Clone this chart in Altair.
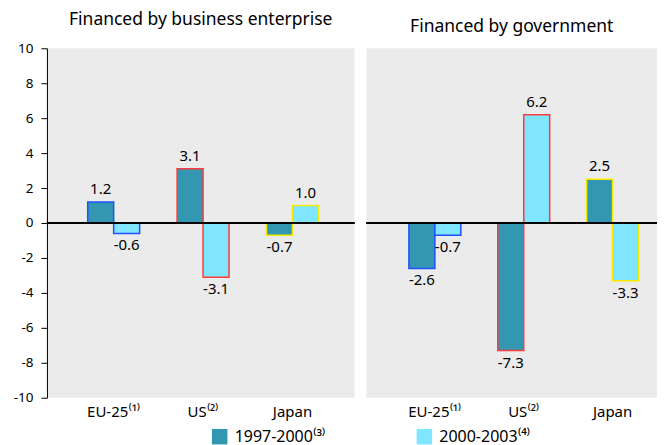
import altair as alt
import pandas as pd

countries = ["EU-25⁽¹⁾", "US⁽²⁾", "Japan"]
periods = ["1997-2000⁽³⁾", "2000-2003⁽⁴⁾"]
business_97_00 = [1.2, 3.1, -0.7]
business_00_03 = [-0.6, -3.1, 1.0]
government_97_00 = [-2.6, -7.3, 2.5]
government_00_03 = [-0.7, 6.2, -3.3]

fill_colors = ["#3397b1", "#80e5ff"]
stroke_colors = ["#2050ff", "#ff3a3a", "#f7ea00"]
FONT = "Noto Sans"
BAR_W = 26


def make_df(a, b):
    rows = []
    for c, v in zip(countries, a):
        rows.append({"country": c, "period": periods[0], "value": v})
    for c, v in zip(countries, b):
        rows.append({"country": c, "period": periods[1], "value": v})
    return pd.DataFrame(rows)


def panel(df, title, width, pad_outer, align, show_axis):
    if show_axis:
        yaxis = alt.Axis(values=list(range(-10, 11, 2)), title=None, grid=False,
                         tickSize=6, labelPadding=8, domainColor="black", tickColor="black",
                         labelColor="black", labelFontSize=13.5, labelFont=FONT,
                         labelExpr="replace(datum.label, '\u2212', '-')")
    else:
        yaxis = alt.Axis(title=None, grid=False, labels=False, ticks=False, domain=False)
    yscale = alt.Scale(domain=[-10, 10], nice=False)
    xenc = alt.X("country:N", sort=countries,
                 scale=alt.Scale(paddingInner=0, paddingOuter=pad_outer, align=align),
                 axis=alt.Axis(title=None, labelAngle=0, domain=False, ticks=False,
                               labelPadding=7, labelFontSize=15, labelFont=FONT,
                               labelColor="black"))
    yenc = alt.Y("value:Q", scale=yscale, axis=yaxis)
    fill = alt.Fill("period:N", sort=periods,
                    scale=alt.Scale(domain=periods, range=fill_colors),
                    legend=alt.Legend(title=None, orient="none", direction="horizontal",
                                      legendX=165, legendY=381, padding=0,
                                      columnPadding=90,
                                      symbolType="square", symbolSize=240,
                                      symbolStrokeWidth=0, labelFontSize=16,
                                      labelFont=FONT, labelColor="black",
                                      symbolOpacity=1, labelOffset=7))
    stroke = alt.Stroke("country:N", scale=alt.Scale(domain=countries, range=stroke_colors),
                        legend=None)
    layers = []
    for i, p in enumerate(periods):
        off = -BAR_W / 2 if i == 0 else BAR_W / 2
        sub = alt.Chart(df).transform_filter(alt.datum.period == p)
        layers.append(sub.mark_bar(width=BAR_W, xOffset=off, strokeWidth=1.5)
                      .encode(x=xenc, y=yenc, fill=fill, stroke=stroke))
    layers.append(alt.Chart(df).mark_rule(color="black", strokeWidth=1)
                  .encode(y=alt.YDatum(0, scale=yscale, axis=yaxis)))
    for i, p in enumerate(periods):
        off = -BAR_W / 2 if i == 0 else BAR_W / 2
        sub = alt.Chart(df).transform_filter(alt.datum.period == p).transform_calculate(
            label="replace(format(datum.value, '.1f'), '\u2212', '-')"
        )
        layers.append(sub.transform_filter(alt.datum.value >= 0).mark_text(
            baseline="bottom", dy=-5, dx=off, fontSize=15, font=FONT, color="black"
        ).encode(x=xenc, y=yenc, text="label:N"))
        layers.append(sub.transform_filter(alt.datum.value < 0).mark_text(
            baseline="top", dy=5, dx=off, fontSize=15, font=FONT, color="black"
        ).encode(x=xenc, y=yenc, text="label:N"))
    return alt.layer(*layers).properties(
        width=width, height=350,
        title=alt.Title(title, fontSize=17.5, fontWeight="normal", font=FONT,
                        anchor="middle", offset=13, color="black"),
    )


left = panel(make_df(business_97_00, business_00_03), "Financed by business enterprise",
             308, 0.22, 0.56, True)
right = panel(make_df(government_97_00, government_00_03), "Financed by government",
              291, 0.135, 1.0, False)

chart = alt.hconcat(left, right, spacing=10).resolve_scale(
    x="independent"
).properties(
    padding={"left": 5, "top": 2, "right": 0, "bottom": 0}
).configure_view(fill="#ebebeb", stroke=None)

chart.save("out.html", embed_options={"renderer": "svg", "actions": False})
